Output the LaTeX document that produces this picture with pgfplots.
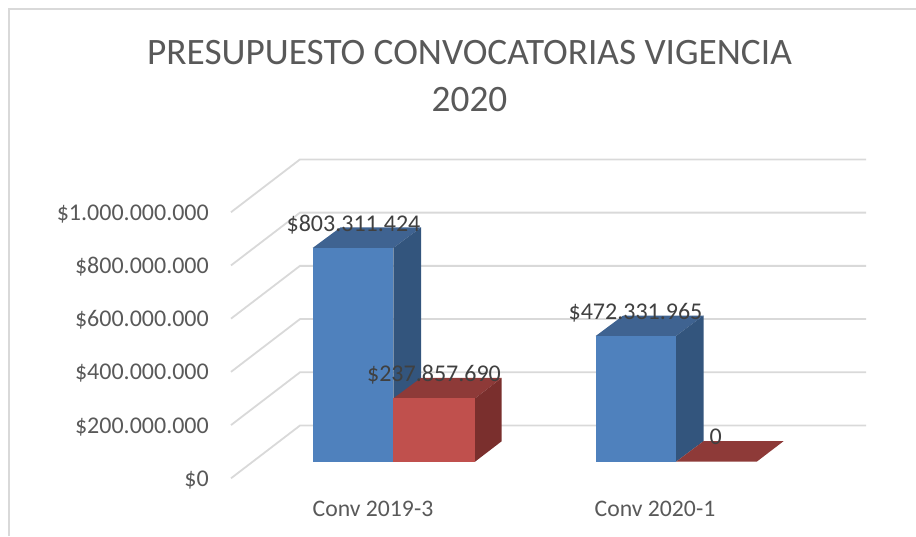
\documentclass[border=0pt]{standalone}
\usepackage{pgfplots}
\pgfplotsset{compat=1.18}
\usepackage{fontspec}
\setmainfont{Carlito}
\definecolor{gridc}{HTML}{D9D9D9}
\definecolor{txt}{HTML}{595959}
\definecolor{lab}{HTML}{404040}
\definecolor{bf}{HTML}{4F81BD}
\definecolor{bt}{HTML}{3F6391}
\definecolor{bs}{HTML}{33557D}
\definecolor{rf}{HTML}{C0504D}
\definecolor{rt}{HTML}{8E3A38}
\definecolor{rs}{HTML}{7A2F2D}
\begin{document}
\begin{tikzpicture}
\begin{axis}[
  scale only axis, width=916pt, height=536pt,
  xmin=0, xmax=916, ymin=-279200000, ymax=1735100000,
  axis line style={draw=none}, tick style={draw=none},
  clip=true,
  scaled y ticks=false,
  ytick={-62400000,137600000,337600000,537600000,737600000,937600000},
  yticklabels={\$0,\$200.000.000,\$400.000.000,\$600.000.000,\$800.000.000,\$1.000.000.000},
  yticklabel style={font=\fontsize{24}{24}\selectfont, text=txt, anchor=east, inner sep=0pt, xshift=209pt, yshift=-1.5pt},
  xtick={373,655},
  xticklabels={Conv 2019-3,Conv 2020-1},
  xticklabel style={font=\fontsize{23.7}{24}\selectfont, text=txt, anchor=base, inner sep=0pt, yshift=19.3pt},
]
% frame
\addplot[gridc, line width=1.8pt] coordinates {(9.3,-279200000) (9.3,1700100000) (916,1700100000)};
% gridlines
\addplot[gridc, line width=1.8pt] coordinates {(231,-62400000) (300,136000000) (866,136000000)};
\addplot[gridc, line width=1.8pt] coordinates {(231,137600000) (300,336000000) (866,336000000)};
\addplot[gridc, line width=1.8pt] coordinates {(231,337600000) (300,536000000) (866,536000000)};
\addplot[gridc, line width=1.8pt] coordinates {(231,537600000) (300,736000000) (866,736000000)};
\addplot[gridc, line width=1.8pt] coordinates {(231,737600000) (300,936000000) (866,936000000)};
\addplot[gridc, line width=1.8pt] coordinates {(231,937600000) (300,1136000000) (866,1136000000)};
% Conv 2019-3 blue, 803311424
\addplot[fill=bt, draw=none] coordinates {(312.7,803311424) (393.3,803311424) (421,880311424) (340.4,880311424)} -- cycle;
\addplot[fill=bs, draw=none] coordinates {(393.3,0) (421,77000000) (421,880311424) (393.3,803311424)} -- cycle;
\addplot[fill=bf, draw=none] coordinates {(312.7,0) (393.3,0) (393.3,803311424) (312.7,803311424)} -- cycle;
% Conv 2019-3 red, 237857690
\addplot[fill=rt, draw=none] coordinates {(393.3,237857690) (475,237857690) (501.7,314857690) (421,314857690)} -- cycle;
\addplot[fill=rs, draw=none] coordinates {(475,0) (501.7,77000000) (501.7,314857690) (475,237857690)} -- cycle;
\addplot[fill=rf, draw=none] coordinates {(393.3,0) (475,0) (475,237857690) (393.3,237857690)} -- cycle;
% Conv 2020-1 blue, 472331965
\addplot[fill=bt, draw=none] coordinates {(595.7,472331965) (676,472331965) (703.5,549331965) (623.2,549331965)} -- cycle;
\addplot[fill=bs, draw=none] coordinates {(676,0) (703.5,77000000) (703.5,549331965) (676,472331965)} -- cycle;
\addplot[fill=bf, draw=none] coordinates {(595.7,0) (676,0) (676,472331965) (595.7,472331965)} -- cycle;
% Conv 2020-1 red, 0
\addplot[fill=rt, draw=none] coordinates {(676,0) (756.7,0) (783.5,77000000) (703.5,77000000)} -- cycle;
% data labels
\node[anchor=base, inner sep=0pt, text=lab, font=\fontsize{24}{24}\selectfont, yshift=16pt] at (axis cs:353.5,803311424) {\$803.311.424};
\node[anchor=base, inner sep=0pt, text=lab, font=\fontsize{24}{24}\selectfont, yshift=17pt] at (axis cs:434,237857690) {\$237.857.690};
\node[anchor=base, inner sep=0pt, text=lab, font=\fontsize{24}{24}\selectfont, yshift=16.5pt] at (axis cs:635.5,472331965) {\$472.331.965};
\node[anchor=base, inner sep=0pt, text=lab, font=\fontsize{24}{24}\selectfont, yshift=17pt] at (axis cs:715.7,0) {0};
% title
\node[anchor=base, align=center, inner sep=0pt, text=txt, font=\fontsize{37.3}{47}\selectfont] at (axis cs:469.5,1735100000) [yshift=-65pt] {PRESUPUESTO CONVOCATORIAS VIGENCIA};
\node[anchor=base, align=center, inner sep=0pt, text=txt, font=\fontsize{37.3}{47}\selectfont] at (axis cs:469.5,1735100000) [yshift=-112pt] {2020};
\end{axis}
\end{tikzpicture}
\end{document}
